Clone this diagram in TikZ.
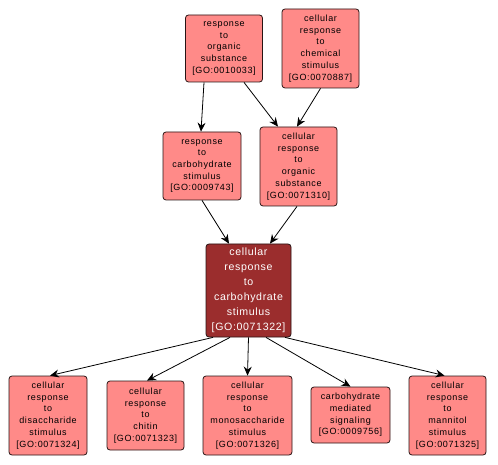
\documentclass[tikz,border=0pt]{standalone}
\usepackage{fontspec}
\setmainfont{Liberation Sans}
\newfontfamily\termfont[LetterSpace=7]{Liberation Sans}
\newfontfamily\focusfont[LetterSpace=6]{Liberation Sans}
\usetikzlibrary{arrows.meta,positioning}
\definecolor{goterm}{RGB}{255,138,136}
\definecolor{goroot}{RGB}{155,45,45}
\definecolor{goline}{RGB}{40,20,20}

\begin{document}
\begin{tikzpicture}[x=1pt,y=-1pt,
  term/.style={draw=goline,fill=goterm,rounded corners=3pt,line width=0.8pt,
               align=center,font=\termfont\fontsize{9}{11.7}\selectfont,
               inner sep=0pt,minimum width=77pt},
  focus/.style={term,fill=goroot,text=white,
                font=\focusfont\fontsize{10.6}{15}\selectfont},
  arr/.style={-{Stealth[length=9pt,width=8pt,inset=3pt]},line width=0.8pt,black}]
  \useasboundingbox (0,0) rectangle (498,465);
  \node[term,minimum height=67pt] (orgsub) at (224,48.5)
    {response\\to\\organic\\substance\\{[GO:0010033]}};
  \node[term,minimum height=79pt] (cellchem) at (320.5,48.5)
    {cellular\\response\\to\\chemical\\stimulus\\{[GO:0070887]}};
  \node[term,minimum width=78pt,minimum height=68pt] (carbstim) at (202,166)
    {response\\to\\carbohydrate\\stimulus\\{[GO:0009743]}};
  \node[term,minimum height=79pt] (cellorg) at (298.5,166.5)
    {cellular\\response\\to\\organic\\substance\\{[GO:0071310]}};
  \node[focus,minimum width=85pt,minimum height=93pt] (cellcarb) at (248.5,290.5)
    {cellular\\response\\to\\carbohydrate\\stimulus\\{[GO:0071322]}};
  \node[term,minimum width=78pt,minimum height=79pt] (disacc) at (48,415.5)
    {cellular\\response\\to\\disaccharide\\stimulus\\{[GO:0071324]}};
  \node[term,minimum height=69pt] (chitin) at (145.5,415.5)
    {cellular\\response\\to\\chitin\\{[GO:0071323]}};
  \node[term,minimum width=89pt,minimum height=79pt] (monosacc) at (247.5,415.5)
    {cellular\\response\\to\\monosaccharide\\stimulus\\{[GO:0071326]}};
  \node[term,minimum width=79pt,minimum height=56pt] (carbsig) at (350.5,415)
    {carbohydrate\\mediated\\signaling\\{[GO:0009756]}};
  \node[term,minimum height=79pt] (mannitol) at (447.5,415.5)
    {cellular\\response\\to\\mannitol\\stimulus\\{[GO:0071325]}};
  \draw[arr] ([xshift=-20pt]orgsub.south)--([xshift=-1pt]carbstim.north);
  \draw[arr] ([xshift=20pt]orgsub.south)--([xshift=-20.5pt]cellorg.north);
  \draw[arr] (cellchem.south)--([xshift=-1.5pt]cellorg.north);
  \draw[arr] (carbstim.south)--([xshift=-19.5pt]cellcarb.north);
  \draw[arr] ([xshift=-1.5pt]cellorg.south)--([xshift=21.5pt]cellcarb.north);
  \draw[arr] ([xshift=-35.5pt]cellcarb.south)--([xshift=2pt]disacc.north);
  \draw[arr] ([xshift=-18.5pt]cellcarb.south)--([xshift=1.5pt]chitin.north);
  \draw[arr] (cellcarb.south)--(monosacc.north);
  \draw[arr] ([xshift=17.5pt]cellcarb.south)--(carbsig.north);
  \draw[arr] ([xshift=36.5pt]cellcarb.south)--([xshift=-3pt]mannitol.north);
\end{tikzpicture}
\end{document}
